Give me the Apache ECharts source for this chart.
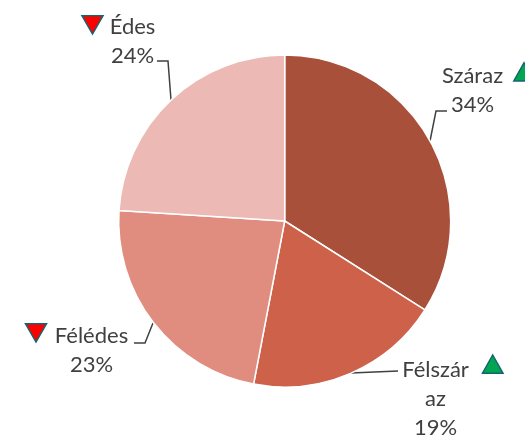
<!DOCTYPE html>
<html><head><meta charset="utf-8">
<style>html,body{margin:0;padding:0;background:#fff;overflow:hidden}#c{width:525px;height:437px}</style>
<script src="https://cdn.jsdelivr.net/npm/echarts@6/dist/echarts.min.js"></script></head>
<body><div id="c"></div>
<script>
const categories = ['Száraz', 'Félszár\naz', 'Félédes', 'Édes'];
const values = [34, 19, 23, 24];
const colors = ['#A9503A', '#CD614A', '#E08D7F', '#ECB9B4'];
const FONT = 'Lato';
const TEXT = '#404040';
const layouts = [
  {x: 472.5, y: 90,  line: [[430,141],[436,111],[447,111]]},
  {x: 435.5, y: 399, line: [[351,373],[398,371]]},
  {x: 91.5,  y: 350, line: [[153,323],[145,343],[134,343]]},
  {x: 132.5, y: 41,  line: [[171,100],[168,61],[157,61]]}
];
const tri = (pts, fill) => ({type:'polygon', shape:{points:pts},
  style:{fill, stroke:'#156570', lineWidth:1.5, lineJoin:'miter'}});
const chart = echarts.init(document.getElementById('c'), null, {renderer:'canvas'});
chart.setOption({
  animation:false,
  backgroundColor:'#fff',
  series:[{
    type:'pie', center:[284.7,221], radius:[0,166], startAngle:90, clockwise:true,
    data: categories.map((n,i)=>({name:n, value:values[i], itemStyle:{color:colors[i]}})),
    itemStyle:{borderColor:'#fff', borderWidth:1.5},
    label:{show:true, position:'outside', color:TEXT, fontFamily:FONT, fontSize:22, lineHeight:29,
      align:'center', overflow:'none', width:200, formatter:p=>p.name+'\n'+p.value+'%'},
    labelLine:{show:true, length:10, length2:10, lineStyle:{color:'#404040', width:1.5}},
    labelLayout:p=>{const l=layouts[p.dataIndex];return {x:l.x,y:l.y,align:'center',verticalAlign:'middle',labelLinePoints:l.line};}
  }],
  graphic:[
    tri([[82,15.8],[103,15.8],[92.5,34]],'#FF0000'),
    tri([[513.8,81],[534,81],[524,62.8]],'#00A651'),
    tri([[482.5,373.2],[503,373.2],[492.7,355]],'#00A651'),
    tri([[25.5,323.8],[46.5,323.8],[36,342]],'#FF0000')
  ]
});
</script></body></html>
